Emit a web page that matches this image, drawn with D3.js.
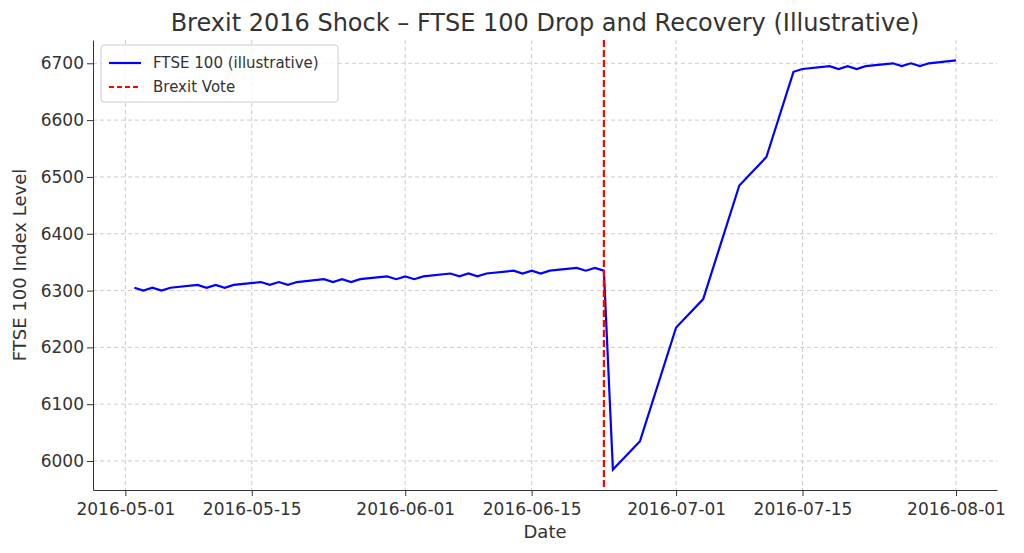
<!DOCTYPE html>
<html>
<head>
<meta charset="utf-8">
<script src="https://cdn.jsdelivr.net/npm/d3@7"></script>
<style>
  body { margin: 0; background: #fff; }
  text { font-family: "DejaVu Sans", sans-serif; fill: #333; }
</style>
</head>
<body>
<svg width="1024" height="553"></svg>
<script>
// Business days and illustrative index levels
const dates = [
  "2016-05-02","2016-05-03","2016-05-04","2016-05-05","2016-05-06",
  "2016-05-09","2016-05-10","2016-05-11","2016-05-12","2016-05-13",
  "2016-05-16","2016-05-17","2016-05-18","2016-05-19","2016-05-20",
  "2016-05-23","2016-05-24","2016-05-25","2016-05-26","2016-05-27",
  "2016-05-30","2016-05-31","2016-06-01","2016-06-02","2016-06-03",
  "2016-06-06","2016-06-07","2016-06-08","2016-06-09","2016-06-10",
  "2016-06-13","2016-06-14","2016-06-15","2016-06-16","2016-06-17",
  "2016-06-20","2016-06-21","2016-06-22","2016-06-23",
  "2016-06-24","2016-06-27","2016-07-01","2016-07-04","2016-07-08","2016-07-11",
  "2016-07-14","2016-07-15",
  "2016-07-18","2016-07-19","2016-07-20","2016-07-21","2016-07-22",
  "2016-07-25","2016-07-26","2016-07-27","2016-07-28","2016-07-29",
  "2016-08-01"
];
const levels = [
  6305,6300,6305,6300,6305,
  6310,6305,6310,6305,6310,
  6315,6310,6315,6310,6315,
  6320,6315,6320,6315,6320,
  6325,6320,6325,6320,6325,
  6330,6325,6330,6325,6330,
  6335,6330,6335,6330,6335,
  6340,6335,6340,6335,
  5985,6035,6235,6285,6485,6535,
  6685,6690,
  6695,6690,6695,6690,6695,
  6700,6695,6700,6695,6700,
  6705
];
const voteDate = "2016-06-23";
const xTicks = ["2016-05-01","2016-05-15","2016-06-01","2016-06-15","2016-07-01","2016-07-15","2016-08-01"];
const yTicks = [6000,6100,6200,6300,6400,6500,6600,6700];

const parse = d3.utcParse("%Y-%m-%d");
const data = dates.map((d, i) => ({ date: parse(d), value: levels[i] }));

const svg = d3.select("svg");
const margin = { top: 40, right: 27, bottom: 63, left: 93 };
const w = 1024 - margin.left - margin.right;
const h = 553 - margin.top - margin.bottom;
const g = svg.append("g").attr("transform", `translate(${margin.left},${margin.top})`);

const x = d3.scaleUtc()
  .domain([d3.utcHour.offset(parse("2016-05-02"), -4.55 * 24), d3.utcHour.offset(parse("2016-08-01"), 4.55 * 24)])
  .range([0, w]);
const y = d3.scaleLinear().domain([5949, 6741]).range([h, 0]);

// Grid
g.append("g").selectAll("line").data(xTicks).join("line")
  .attr("x1", d => x(parse(d))).attr("x2", d => x(parse(d)))
  .attr("y1", 0).attr("y2", h)
  .attr("stroke", "#ccc").attr("stroke-dasharray", "4,3");
g.append("g").selectAll("line").data(yTicks).join("line")
  .attr("y1", d => y(d)).attr("y2", d => y(d))
  .attr("x1", 0).attr("x2", w)
  .attr("stroke", "#ccc").attr("stroke-dasharray", "4,3");

// Axes
const xAxis = g.append("g").attr("transform", `translate(0,${h})`)
  .call(d3.axisBottom(x).tickValues(xTicks.map(parse)).tickFormat(d3.utcFormat("%Y-%m-%d")).tickSizeOuter(0));
const yAxis = g.append("g")
  .call(d3.axisLeft(y).tickValues(yTicks).tickFormat(d3.format("d")).tickSizeOuter(0));
[xAxis, yAxis].forEach(a => {
  a.selectAll("text").style("font-size", "17px").style("font-family", "DejaVu Sans, sans-serif").attr("fill", "#333");
  a.selectAll("line, path").attr("stroke", "#333");
});
xAxis.selectAll("text").attr("dy", "0.95em");

// Line
g.append("path").datum(data)
  .attr("fill", "none").attr("stroke", "#0000ff").attr("stroke-width", 2.2)
  .attr("d", d3.line().x(d => x(d.date)).y(d => y(d.value)));

// Vote marker
g.append("line")
  .attr("x1", x(parse(voteDate))).attr("x2", x(parse(voteDate)))
  .attr("y1", 0).attr("y2", h)
  .attr("stroke", "red").attr("stroke-width", 2.2).attr("stroke-dasharray", "7,3");

// Title and labels
svg.append("text").attr("x", margin.left + w / 2).attr("y", 31).attr("text-anchor", "middle")
  .style("font-size", "24px").text("Brexit 2016 Shock – FTSE 100 Drop and Recovery (Illustrative)");
svg.append("text").attr("x", margin.left + w / 2).attr("y", 538).attr("text-anchor", "middle")
  .style("font-size", "18px").text("Date");
svg.append("text").attr("transform", `translate(26,${margin.top + h / 2}) rotate(-90)`).attr("text-anchor", "middle")
  .style("font-size", "18px").text("FTSE 100 Index Level");

// Legend
const lg = svg.append("g").attr("transform", "translate(101,45)");
lg.append("rect").attr("width", 237).attr("height", 57).attr("rx", 3)
  .attr("fill", "#fff").attr("fill-opacity", 0.8).attr("stroke", "#ccc");
const items = [
  { label: "FTSE 100 (illustrative)", color: "#0000ff", dash: null },
  { label: "Brexit Vote", color: "red", dash: "5,3" }
];
items.forEach((it, i) => {
  const yy = 18 + i * 24;
  lg.append("line").attr("x1", 8).attr("x2", 40).attr("y1", yy).attr("y2", yy)
    .attr("stroke", it.color).attr("stroke-width", 2.2).attr("stroke-dasharray", it.dash);
  lg.append("text").attr("x", 52).attr("y", yy + 5).style("font-size", "15px").text(it.label);
});
</script>
</body>
</html>
